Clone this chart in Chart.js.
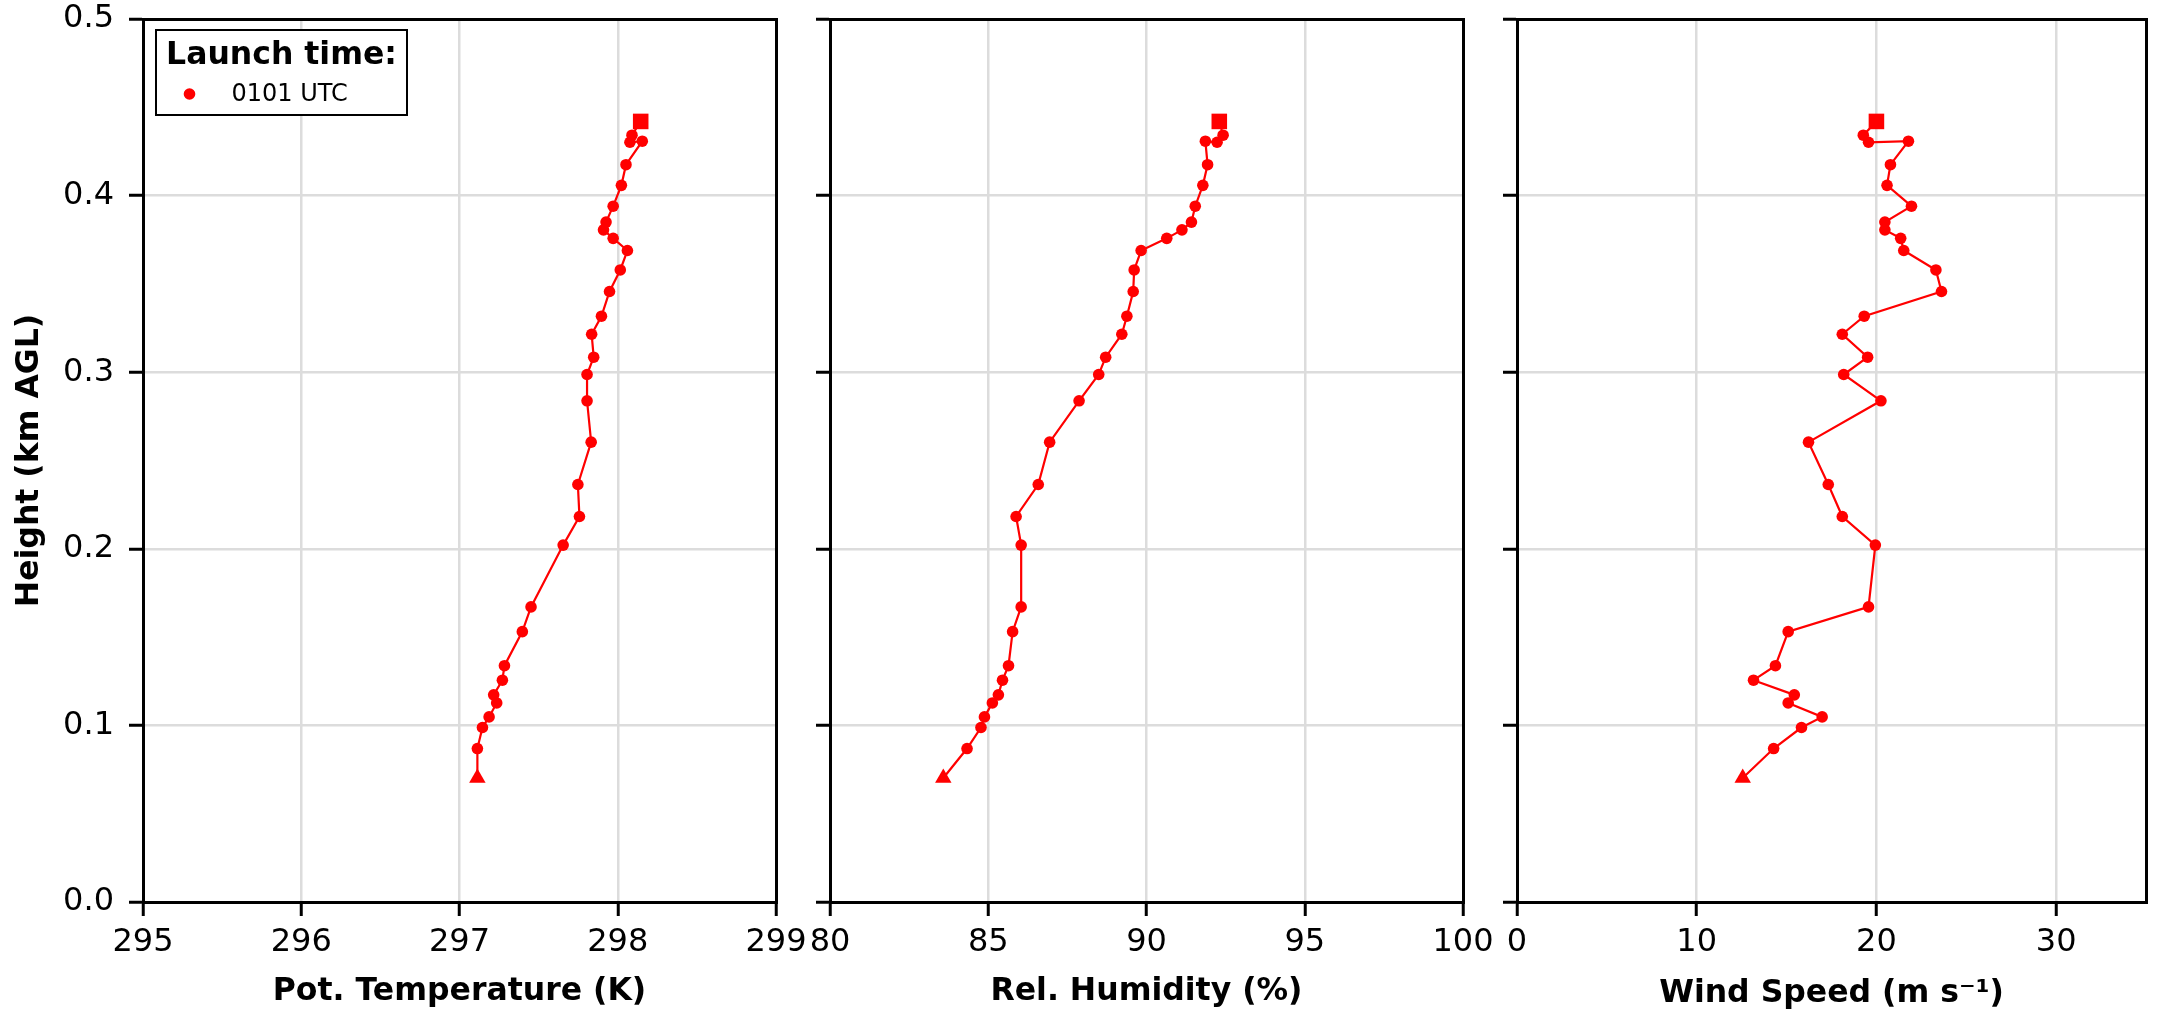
<!DOCTYPE html>
<html>
<head>
<meta charset="utf-8">
<script src="https://cdn.jsdelivr.net/npm/chart.js@4.4.1/dist/chart.umd.min.js"></script>
<style>
html, body { margin: 0; padding: 0; background: #ffffff; }
#wrap { position: relative; width: 2157px; height: 1013px; overflow: hidden; background: #ffffff; }
#wrap canvas { position: absolute; left: 0; top: 0; }
</style>
</head>
<body>
<div id="wrap">
  <canvas id="c1" width="2157" height="1013"></canvas>
  <canvas id="c2" width="2157" height="1013"></canvas>
  <canvas id="c3" width="2157" height="1013"></canvas>
</div>
<script>
// ---- data (ascending through the profile: first = launch, last = top) ----
const heights = [0.0702, 0.0869, 0.0988, 0.1048, 0.1127, 0.1173, 0.1256, 0.1338, 0.1531, 0.1671,
                 0.2021, 0.2183, 0.2364, 0.2604, 0.2838, 0.2987, 0.3085, 0.3215, 0.3317, 0.3457,
                 0.3579, 0.3689, 0.3758, 0.3806, 0.3850, 0.3940, 0.4058, 0.4175, 0.4308, 0.4302,
                 0.4342, 0.4420];
const potTemp = [297.113, 297.113, 297.145, 297.187, 297.235, 297.216, 297.271, 297.284, 297.397, 297.452,
                 297.655, 297.758, 297.748, 297.832, 297.806, 297.806, 297.848, 297.835, 297.897, 297.948,
                 298.016, 298.061, 297.971, 297.910, 297.926, 297.971, 298.023, 298.052, 298.155, 298.077,
                 298.090, 298.145];
const relHum  = [83.58, 84.33, 84.77, 84.88, 85.13, 85.32, 85.45, 85.64, 85.77, 86.04,
                 86.04, 85.88, 86.58, 86.94, 87.87, 88.49, 88.71, 89.22, 89.38, 89.58,
                 89.61, 89.83, 90.64, 91.12, 91.42, 91.54, 91.78, 91.93, 91.86, 92.23,
                 92.42, 92.30];
const windSpd = [12.56, 14.28, 15.83, 16.98, 15.09, 15.43, 13.16, 14.38, 15.09, 19.56,
                 19.94, 18.10, 17.32, 16.22, 20.25, 18.18, 19.51, 18.10, 19.32, 23.62,
                 23.31, 21.52, 21.35, 20.47, 20.47, 21.95, 20.59, 20.78, 21.78, 19.56,
                 19.27, 20.00];

const heightTicks = [0, 0.1, 0.2, 0.3, 0.4, 0.5];
const tempTicks = [295, 296, 297, 298, 299];
const humTicks = [80, 85, 90, 95, 100];
const windTicks = [0, 10, 20, 30];

const launchLabel = '0101 UTC';
const legendTitle = 'Launch time:';

// ---- layout ----
const W = 2157, H = 1013;
const TOP = 19, BOTTOM = 902;
const RED = '#ff0000';
const TICK_SIZE = 32;
const LABEL_SIZE = 31.5;

Chart.defaults.font.family = "'DejaVu Sans', sans-serif";
Chart.defaults.color = '#000000';

function alignPx(v, w) { return Math.round(v - w / 2) + w / 2; }

const framePlugin = {
  id: 'frame',
  afterDraw(chart) {
    const { ctx } = chart;
    const a = chart.chartArea;
    const l = alignPx(a.left, 3), r = alignPx(a.right, 3), t = alignPx(a.top, 3), b = alignPx(a.bottom, 3);
    ctx.save();
    ctx.strokeStyle = '#000000';
    ctx.lineWidth = 3;
    ctx.lineJoin = 'miter';
    ctx.strokeRect(l, t, r - l, b - t);
    ctx.restore();
  }
};

const legendPlugin = {
  id: 'launchLegend',
  afterDraw(chart) {
    const { ctx } = chart;
    const a = chart.chartArea;
    const bx = a.left + 13, by = a.top + 11, bw = 251, bh = 85;
    ctx.save();
    ctx.fillStyle = '#ffffff';
    ctx.fillRect(bx, by, bw, bh);
    ctx.strokeStyle = '#000000';
    ctx.lineWidth = 2;
    ctx.strokeRect(bx, by, bw, bh);
    ctx.fillStyle = '#000000';
    ctx.font = "bold 31.5px 'DejaVu Sans'";
    ctx.textAlign = 'center';
    ctx.textBaseline = 'alphabetic';
    ctx.fillText(legendTitle, bx + bw / 2, by + 33.5);
    ctx.fillStyle = RED;
    ctx.beginPath();
    ctx.arc(bx + 33.5, by + 64, 5.8, 0, Math.PI * 2);
    ctx.fill();
    ctx.fillStyle = '#000000';
    ctx.font = "24px 'DejaVu Sans'";
    ctx.textAlign = 'left';
    ctx.fillText(launchLabel, bx + 75.5, by + 71);
    ctx.restore();
  }
};

function makeChart(id, values, xMin, xMax, xTicks, xTitle, left, right, showY, titlePadBottom, extraPlugins) {
  const last = values.length - 1;
  const points = values.map((v, i) => ({ x: v, y: heights[i] }));
  const gridOpts = { color: '#dcdcdc', lineWidth: 2.5, tickColor: '#000000', tickWidth: 3, tickLength: 14, drawTicks: true };
  const borderOpts = { display: true, color: '#000000', width: 3 };
  return new Chart(document.getElementById(id), {
    type: 'scatter',
    data: {
      datasets: [{
        data: points,
        showLine: true,
        borderColor: RED,
        backgroundColor: RED,
        borderWidth: 2.2,
        tension: 0,
        pointBackgroundColor: RED,
        pointBorderWidth: 0,
        pointStyle: (c) => c.dataIndex === 0 ? 'triangle' : (c.dataIndex === last ? 'rect' : 'circle'),
        pointRadius: (c) => c.dataIndex === 0 ? 9.5 : (c.dataIndex === last ? 11 : 5.8)
      }]
    },
    options: {
      responsive: false,
      animation: false,
      devicePixelRatio: 1,
      events: [],
      layout: { padding: { left: 0, top: TOP, right: W - right, bottom: 0 } },
      plugins: { legend: { display: false }, tooltip: { enabled: false } },
      scales: {
        x: {
          type: 'linear', position: 'bottom', min: xMin, max: xMax,
          afterBuildTicks: (s) => { s.ticks = xTicks.map(v => ({ value: v })); },
          afterFit: (s) => { s.height = H - BOTTOM; s.paddingLeft = 0; s.paddingRight = 0; },
          grid: gridOpts,
          border: borderOpts,
          ticks: { font: { size: TICK_SIZE }, color: '#000000', padding: 7.5, maxRotation: 0, autoSkip: false,
                   callback: (v) => String(v) },
          title: { display: true, text: xTitle, color: '#000000',
                   font: { size: LABEL_SIZE, weight: 'bold' }, padding: { top: 0, bottom: titlePadBottom } }
        },
        y: {
          type: 'linear', position: 'left', min: 0, max: 0.5,
          afterBuildTicks: (s) => { s.ticks = heightTicks.map(v => ({ value: v })); },
          afterFit: (s) => { s.width = left; s.paddingTop = 0; s.paddingBottom = 0; },
          grid: gridOpts,
          border: borderOpts,
          ticks: { display: showY, font: { size: TICK_SIZE }, color: '#000000', padding: 15, autoSkip: false,
                   callback: (v) => Number(v).toFixed(1) },
          title: { display: showY, text: 'Height (km AGL)', color: '#000000',
                   font: { size: LABEL_SIZE, weight: 'bold' }, padding: { top: 11, bottom: 0 } }
        }
      }
    },
    plugins: [framePlugin].concat(extraPlugins || [])
  });
}

makeChart('c1', potTemp, 295, 299, tempTicks, 'Pot. Temperature (K)', 143, 776, true, 2, [legendPlugin]);
makeChart('c2', relHum, 80, 100, humTicks, 'Rel. Humidity (%)', 830, 1463, false, 2);
makeChart('c3', windSpd, 0, 35, windTicks, 'Wind Speed (m s\u207B\u00B9)', 1517, 2150, false, 0);
</script>
</body>
</html>
